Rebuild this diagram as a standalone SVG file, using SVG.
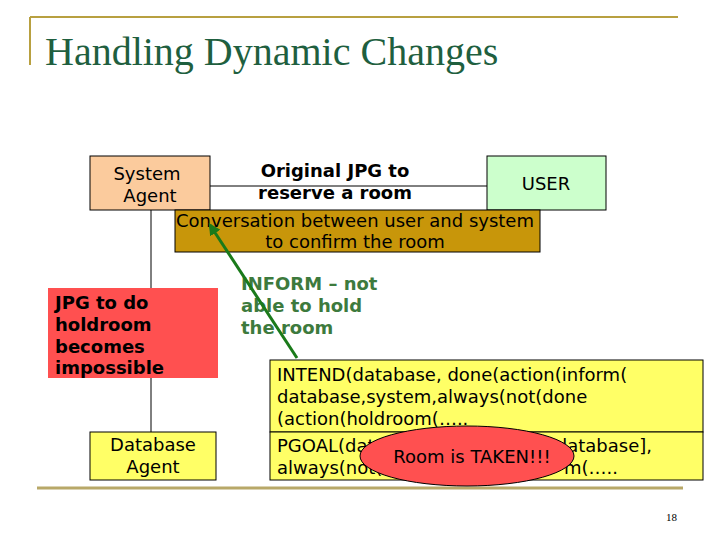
<svg xmlns="http://www.w3.org/2000/svg" width="720" height="540" viewBox="0 0 720 540">
<style>
.t{font-family:"DejaVu Sans","Liberation Sans",sans-serif;font-size:18px;fill:#000}
.b{font-weight:bold}
.g{fill:#3D7A3D}
.box{stroke:#000;stroke-width:1}
.ln{stroke:#000;stroke-width:1;fill:none}
</style>
<defs>
<marker id="ah" viewBox="0 0 10 10" refX="8" refY="5" markerWidth="4" markerHeight="4" orient="auto">
<path d="M0,0 L10,5 L0,10 z" fill="#1A7A1A"/>
</marker>
</defs>
<rect width="720" height="540" fill="#fff"/>
<g id="frame">
<path d="M30,17 H678 M30,17 V65" stroke="#B8A040" stroke-width="2" fill="none"/>
<path d="M37,488 H683" stroke="#B8A868" stroke-width="3" fill="none"/>
<text x="45" y="65" font-family="Liberation Serif,serif" font-size="40" fill="#1F5F3F">Handling Dynamic Changes</text>
<text x="666" y="521" font-family="Liberation Serif,serif" font-size="11" fill="#000">18</text>
</g>
<g id="system-agent">
<rect class="box" x="90" y="156" width="120" height="54" fill="#FBCB9D"/>
<text class="t" x="147" y="180" text-anchor="middle">System</text>
<text class="t" x="150" y="202" text-anchor="middle">Agent</text>
</g>
<g id="jpg-label">
<text class="t b" x="335" y="177" text-anchor="middle">Original JPG to</text>
<text class="t b" x="335" y="199" text-anchor="middle">reserve a room</text>
</g>
<g id="user">
<rect class="box" x="487" y="156" width="119" height="54" fill="#CCFFCC"/>
<text class="t" x="546" y="190" text-anchor="middle">USER</text>
</g>
<g id="conversation">
<rect class="box" x="175" y="210" width="365" height="42" fill="#C8960A"/>
<text class="t" x="355" y="227" text-anchor="middle">Conversation between user and system</text>
<text class="t" x="355" y="248" text-anchor="middle">to confirm the room</text>
</g>
<g id="jpg-holdroom">
<rect x="48" y="288" width="170" height="90" fill="#FF5050"/>
<text class="t b" x="55" y="309">JPG to do</text>
<text class="t b" x="55" y="331">holdroom</text>
<text class="t b" x="55" y="353">becomes</text>
<text class="t b" x="55" y="374">impossible</text>
</g>
<g id="inform">
<text class="t b g" x="241" y="290">INFORM – not</text>
<text class="t b g" x="241" y="312">able to hold</text>
<text class="t b g" x="241" y="334">the room</text>
</g>
<g id="database-agent">
<rect class="box" x="90" y="432" width="126" height="48" fill="#FFFF66"/>
<text class="t" x="153" y="451" text-anchor="middle">Database</text>
<text class="t" x="153" y="473" text-anchor="middle">Agent</text>
</g>
<g id="intend">
<rect class="box" x="270" y="360" width="433" height="72" fill="#FFFF66"/>
<text class="t" x="277" y="381">INTEND(database, done(action(inform(</text>
<text class="t" x="277" y="403">database,system,always(not(done</text>
<text class="t" x="277" y="425">(action(holdroom(…..</text>
</g>
<g id="pgoal">
<rect class="box" x="270" y="432" width="433" height="48" fill="#FFFF66"/>
<text class="t" x="277" y="452">PGOAL(dat</text>
<text class="t" x="652" y="452" text-anchor="end">database],</text>
<text class="t" x="277" y="474">always(not(</text>
<text class="t" x="618" y="474" text-anchor="end">m(…..</text>
</g>
<g id="taken">
<ellipse cx="467" cy="456" rx="107" ry="30" fill="#FF5050" stroke="#000" stroke-width="1"/>
<text class="t" x="472" y="463" text-anchor="middle">Room is TAKEN!!!</text>
</g>
<g id="connectors">
<line class="ln" x1="210" y1="186" x2="487" y2="186"/>
<line class="ln" x1="151" y1="210" x2="151" y2="288"/>
<line class="ln" x1="151" y1="378" x2="151" y2="432"/>
<line x1="297" y1="358" x2="210" y2="225" stroke="#1A7A1A" stroke-width="3" marker-end="url(#ah)"/>
</g>
</svg>
